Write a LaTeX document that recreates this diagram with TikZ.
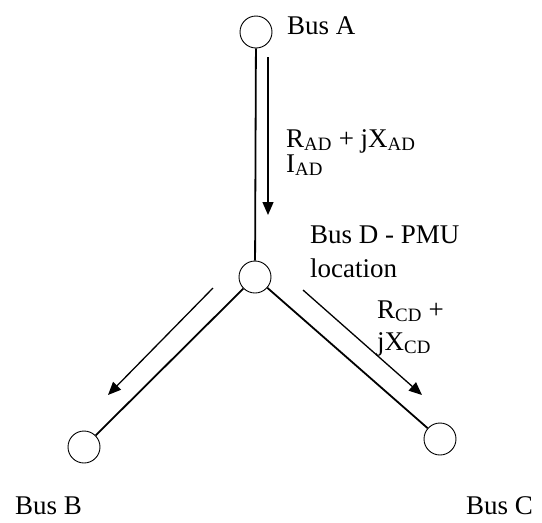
\documentclass[tikz,border=0pt]{standalone}
\usepackage{fontspec}
\setmainfont{Liberation Serif}
\usetikzlibrary{arrows.meta}
\begin{document}
\begin{tikzpicture}[x=1pt,y=-1pt,
  bus/.style={circle,draw,line width=0.9pt,minimum size=32pt,inner sep=0pt},
  linebranch/.style={line width=1.8pt},
  flow/.style={line width=1.3pt,-{Triangle[length=13pt,width=11pt]}},
  lbl/.style={anchor=base west,inner sep=0pt,font=\fontsize{27}{32}\selectfont}]
\useasboundingbox (0,0) rectangle (542,523);
\node[bus] (A) at (256,32) {};
\node[bus] (D) at (255,277) {};
\node[bus] (B) at (84,447) {};
\node[bus] (C) at (440,439) {};
\draw[linebranch] (A) -- (D);
\draw[linebranch] (D) -- (B);
\draw[linebranch] (D) -- (C);
\coordinate (a1) at (268,57);
\coordinate (a2) at (268,215);
\coordinate (b1) at (213,288);
\coordinate (b2) at (108,395);
\coordinate (c1) at (303,290);
\coordinate (c2) at (422,395);
\draw[flow] (a1) -- (a2);
\draw[flow] (b1) -- (b2);
\draw[flow] (c1) -- (c2);
\node[lbl] (tA) at (287,34) {Bus A};
\node[lbl] (tRAD) at (286,147) {R\textsubscript{AD} + jX\textsubscript{AD}};
\node[lbl] (tIAD) at (286,172) {I\textsubscript{AD}};
\node[lbl] (tD1) at (310,243) {Bus D - PMU};
\node[lbl] (tD2) at (310,277) {location};
\node[lbl] (tRCD) at (377,318) {R\textsubscript{CD} +};
\node[lbl] (tXCD) at (377,350) {jX\textsubscript{CD}};
\node[lbl] (tB) at (15,514) {Bus B};
\node[lbl] (tC) at (466,514) {Bus C};
\end{tikzpicture}
\end{document}
